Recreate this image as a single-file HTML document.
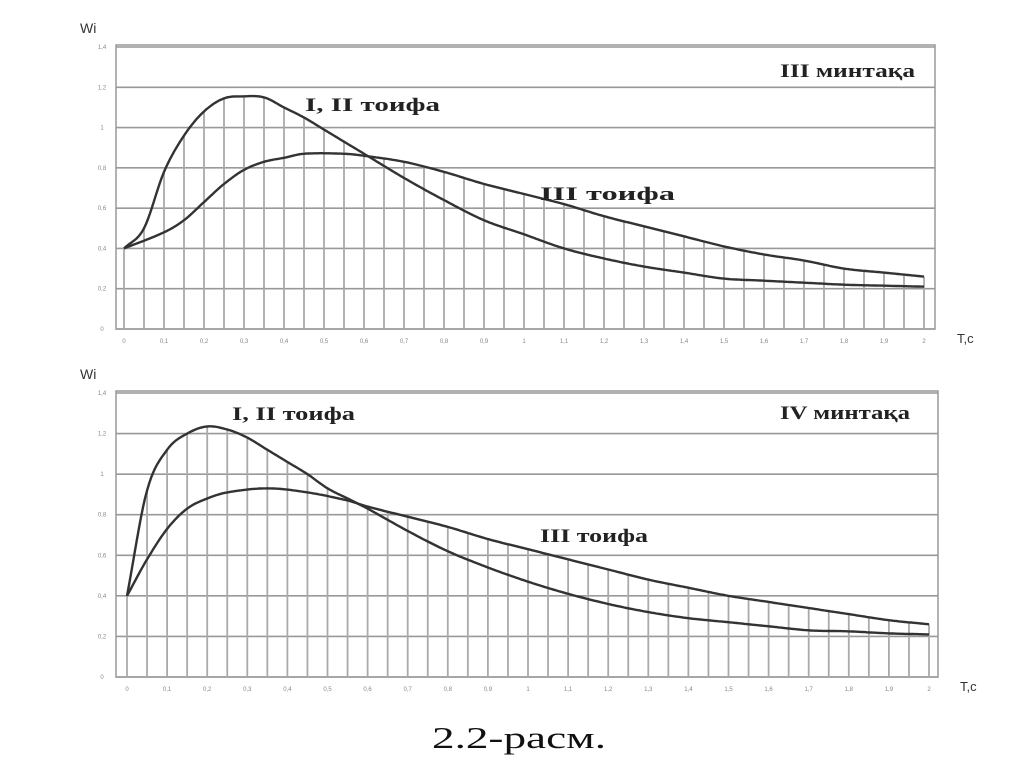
<!DOCTYPE html>
<html><head><meta charset="utf-8"><style>
html,body{margin:0;padding:0;background:#fff;width:1024px;height:767px;overflow:hidden}
svg{display:block}
</style></head><body>
<svg id="s" width="1024" height="767" xmlns="http://www.w3.org/2000/svg" font-family="Liberation Serif, serif">
<text x="432" y="748" font-size="31" textLength="174" lengthAdjust="spacingAndGlyphs" fill="#111">2.2-расм.</text>
</svg>
<script>
const NS="http://www.w3.org/2000/svg",S=document.getElementById('s');
function el(t,a,txt){const e=document.createElementNS(NS,t);for(const k in a)e.setAttribute(k,a[k]);if(txt)e.textContent=txt;S.appendChild(e);return e;}
function interp(d,x){const n=d.length;
 for(let i=0;i<n-1;i++){if(x>=d[i][0]-1e-9&&x<=d[i+1][0]+1e-9){
  const h=d[i+1][0]-d[i][0],t=(x-d[i][0])/h;
  const sl=j=>{if(j<=0)return (d[1][1]-d[0][1])/(d[1][0]-d[0][0]);if(j>=n-1)return (d[n-1][1]-d[n-2][1])/(d[n-1][0]-d[n-2][0]);return (d[j+1][1]-d[j-1][1])/(d[j+1][0]-d[j-1][0]);};
  const m0=sl(i)*h,m1=sl(i+1)*h,t2=t*t,t3=t2*t;
  return (2*t3-3*t2+1)*d[i][1]+(t3-2*t2+t)*m0+(-2*t3+3*t2)*d[i+1][1]+(t3-t2)*m1;}}
 return d[n-1][1];}
function chart(c){
 const X=v=>c.x0+v*(c.x1-c.x0)/2, Y=v=>c.y0-v*(c.y0-c.y14)/1.4;
 el('rect',{x:c.fl,y:c.ft,width:c.fr-c.fl,height:c.fb-c.ft,fill:'none',stroke:'#999','stroke-width':1.5});
 for(let i=0;i<=7;i++){const y=Y(i*0.2);el('line',{x1:c.fl,x2:c.fr,y1:y,y2:y,stroke:'#999','stroke-width':1.6});
  el('text',{x:c.fl-14,y:y+2,'font-size':6,fill:'#888','text-anchor':'middle','font-family':'Liberation Sans'},(i==0?'0':i==5?'1':(i*0.2).toFixed(1).replace('.',',')));}
 for(let i=0;i<=40;i++){const v=i*0.05,x=X(v),h=Math.max(interp(c.a,v),interp(c.b,v));
  el('line',{x1:x,x2:x,y1:c.y0,y2:Y(h),stroke:'#aaa','stroke-width':1.8});
  if(i%2==0)el('text',{x:x,y:c.y0+14,'font-size':6,fill:'#888','text-anchor':'middle','font-family':'Liberation Sans'},(i==0?'0':i==20?'1':i==40?'2':v.toFixed(1).replace('.',',')));}
 for(const d of [c.a,c.b]){let p='';for(let v=0;v<=2.0001;v+=0.005)p+=(p?'L':'M')+X(v).toFixed(1)+','+Y(interp(d,v)).toFixed(1);
  el('path',{d:p,fill:'none',stroke:'#333','stroke-width':2.4,'stroke-linejoin':'round'});}
 el('text',{x:c.fl-36,y:c.ft-12,'font-size':14,fill:'#333','font-family':'Liberation Sans'},'Wi');
 el('text',{x:c.fr+22,y:c.y0+14,'font-size':13,fill:'#333','font-family':'Liberation Sans'},'T,c');
 for(const t of c.t)el('text',{x:t[0],y:t[1],'font-size':19,'font-weight':'bold',fill:'#222',textLength:t[3],lengthAdjust:'spacingAndGlyphs'},t[2]);
}
chart({fl:116,fr:935,ft:45,fb:329,x0:124,x1:924,y0:329,y14:47,
a:[[0,0.4],[0.05,0.5],[0.1,0.78],[0.15,0.96],[0.2,1.08],[0.25,1.145],[0.3,1.155],[0.35,1.15],[0.4,1.1],[0.45,1.05],[0.5,0.99],[0.55,0.93],[0.6,0.87],[0.7,0.75],[0.8,0.64],[0.9,0.54],[1,0.47],[1.1,0.4],[1.2,0.35],[1.3,0.31],[1.4,0.28],[1.5,0.25],[1.6,0.24],[1.7,0.23],[1.8,0.22],[1.9,0.215],[2,0.21]],
b:[[0,0.4],[0.1,0.48],[0.15,0.54],[0.2,0.63],[0.25,0.72],[0.3,0.79],[0.35,0.83],[0.4,0.85],[0.45,0.87],[0.55,0.87],[0.6,0.86],[0.7,0.83],[0.8,0.78],[0.9,0.72],[1,0.67],[1.1,0.62],[1.2,0.56],[1.3,0.51],[1.4,0.46],[1.5,0.41],[1.6,0.37],[1.7,0.34],[1.8,0.3],[1.9,0.28],[2,0.26]],
t:[[780,77,'III минтақа',135],[305,111,'I, II тоифа',135],[540,200,'III тоифа',135]]});
chart({fl:116,fr:938,ft:391,fb:677,x0:127,x1:929,y0:677,y14:393,
a:[[0,0.4],[0.05,0.92],[0.1,1.12],[0.15,1.2],[0.2,1.235],[0.25,1.22],[0.3,1.18],[0.35,1.12],[0.4,1.06],[0.45,1.0],[0.5,0.93],[0.55,0.88],[0.6,0.83],[0.7,0.72],[0.8,0.62],[0.9,0.54],[1,0.47],[1.1,0.41],[1.2,0.36],[1.3,0.32],[1.4,0.29],[1.5,0.27],[1.6,0.25],[1.7,0.23],[1.8,0.225],[1.9,0.215],[2,0.21]],
b:[[0,0.4],[0.05,0.58],[0.1,0.73],[0.15,0.83],[0.2,0.88],[0.25,0.91],[0.35,0.93],[0.45,0.91],[0.55,0.87],[0.6,0.84],[0.7,0.79],[0.8,0.74],[0.9,0.68],[1,0.63],[1.1,0.58],[1.2,0.53],[1.3,0.48],[1.4,0.44],[1.5,0.4],[1.6,0.37],[1.7,0.34],[1.8,0.31],[1.9,0.28],[2,0.26]],
t:[[780,419,'IV минтақа',130],[232,420,'I, II тоифа',123],[540,542,'III тоифа',108]]});
</script>
</body></html>
